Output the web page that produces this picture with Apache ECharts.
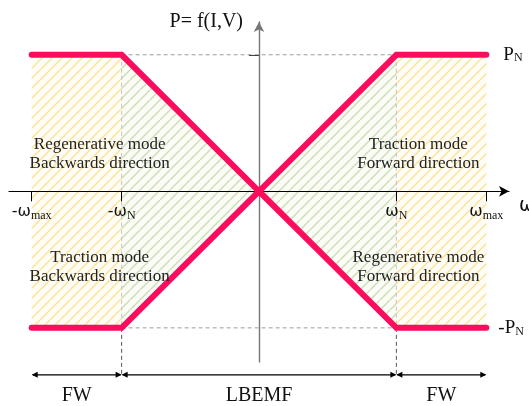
<!DOCTYPE html>
<html>
<head>
<meta charset="utf-8">
<script src="https://cdn.jsdelivr.net/npm/echarts@6/dist/echarts.min.js"></script>
<style>
  html, body { margin: 0; padding: 0; background: #fff; }
  #chart { width: 529px; height: 406px; }
</style>
</head>
<body>
<div id="chart"></div>
<script>
// Speed breakpoints (per unit of rated speed ωN) and the power envelope (per unit of PN)
const omegaPoints   = [-1.655, -1, 0, 1, 1.655];
const upperPower    = [1, 1, 0, 1, 1];
const lowerPower    = [-1, -1, 0, -1, -1];

// Axis ticks
const speedTicks      = [-1.655, -1, 1, 1.655];
const speedTickLabels = ['{w|-ω}{s|max}', '{w|-ω}{s|N}', '{w|ω}{s|N}', '{w|ω}{s|max}'];
const powerTicks      = [1];

// Operating quadrant captions
const quadrantCaptions = [
  'Regenerative mode\nBackwards direction',
  'Traction mode\nForward direction',
  'Traction mode\nBackwards direction',
  'Regenerative mode\nForward direction'
];

// Speed ranges shown under the chart
const rangeEdges  = [-1.655, -1, 1, 1.655];
const rangeLabels = ['FW', 'LBEMF', 'FW'];

// ---- layout (data-space anchors for annotations) ----
const captionAnchors = [[-1.16, 0.27], [1.16, 0.27], [-1.16, -0.555], [1.16, -0.555]];
const rangeArrowY = -1.344;
const rangeLabelY = -1.495;

const SERIF = 'Liberation Serif';
const PINK = '#fb0c5d';

function hatch(color, bg, period) {
  const c = document.createElement('canvas');
  c.width = c.height = period;
  const ctx = c.getContext('2d');
  if (bg) { ctx.fillStyle = bg; ctx.fillRect(0, 0, period, period); }
  ctx.strokeStyle = color;
  ctx.lineWidth = 1.5;
  ctx.beginPath();
  for (let k = -1; k <= 1; k++) {
    ctx.moveTo(k * period, period);
    ctx.lineTo(k * period + period, 0);
  }
  ctx.stroke();
  return { image: c, repeat: 'repeat' };
}

const yellowHatch = hatch('rgba(245,212,100,0.62)', 'rgba(255,252,238,0.6)', 10);
const greenHatch  = hatch('rgba(190,208,160,0.7)', 'rgba(248,250,240,0.6)', 10);

function pts(ys, from, to) {
  const out = [];
  for (let i = from; i <= to; i++) out.push([omegaPoints[i], ys[i]]);
  return out;
}

function fill(data, pattern) {
  return {
    type: 'line', data, silent: true, showSymbol: false, z: 1,
    lineStyle: { width: 0 },
    areaStyle: { color: pattern, opacity: 1 }
  };
}

function guide(data, color) {
  return {
    type: 'line', data, silent: true, showSymbol: false, z: 2,
    lineStyle: { color, width: 1, type: [4, 3] }
  };
}

const series = [
  // field-weakening bands
  fill(pts(upperPower, 0, 1), yellowHatch),
  fill(pts(lowerPower, 0, 1), yellowHatch),
  fill(pts(upperPower, 3, 4), yellowHatch),
  fill(pts(lowerPower, 3, 4), yellowHatch),
  // constant-torque region
  fill(pts(upperPower, 1, 3), greenHatch),
  fill(pts(lowerPower, 1, 3), greenHatch),
  // rated-power / rated-speed guides
  guide([[omegaPoints[1], upperPower[1]], [omegaPoints[3], upperPower[3]]], '#9c9c9c'),
  guide([[omegaPoints[1], lowerPower[1]], [omegaPoints[3], lowerPower[3]]], '#9c9c9c'),
  guide([[omegaPoints[1], upperPower[1]], [omegaPoints[1], lowerPower[1]]], '#c2c2c2'),
  guide([[omegaPoints[3], upperPower[3]], [omegaPoints[3], lowerPower[3]]], '#c2c2c2'),
  // power envelope
  {
    type: 'line', data: pts(upperPower, 0, 4), showSymbol: false, z: 5,
    lineStyle: { color: PINK, width: 6, cap: 'round', join: 'miter' },
    endLabel: {
      show: true, distance: 17, formatter: '{p|P}{n|N}',
      rich: {
        p: { fontFamily: SERIF, fontSize: 19, color: '#111', verticalAlign: 'bottom' },
        n: { fontFamily: SERIF, fontSize: 12, color: '#111', verticalAlign: 'bottom' }
      }
    }
  },
  {
    type: 'line', data: pts(lowerPower, 0, 4), showSymbol: false, z: 5,
    lineStyle: { color: PINK, width: 6, cap: 'round', join: 'miter' },
    endLabel: {
      show: true, distance: 12, formatter: '{p|-P}{n|N}',
      rich: {
        p: { fontFamily: SERIF, fontSize: 19, color: '#111', verticalAlign: 'bottom' },
        n: { fontFamily: SERIF, fontSize: 12, color: '#111', verticalAlign: 'bottom' }
      }
    }
  }
];

const chart = echarts.init(document.getElementById('chart'), null, { renderer: 'canvas' });

const xAxisOption = {
  type: 'value', min: -1.82, max: 1.82, position: 'bottom', offset: 0, z: 3,
  name: 'ω', nameLocation: 'end', nameGap: 10,
  nameTextStyle: { fontFamily: 'DejaVu Sans', fontSize: 19, color: '#111', align: 'left', verticalAlign: 'top', padding: [5, 0, 0, 0] },
  axisLine: { onZero: false, symbol: ['none', 'arrow'], symbolSize: [8, 10], lineStyle: { color: '#000', width: 1.2 } },
  axisTick: { show: true, customValues: speedTicks, length: 10, lineStyle: { color: '#000', width: 1 } },
  axisLabel: {
    show: true, customValues: speedTicks, margin: 13,
    formatter: v => {
      let best = 0;
      speedTicks.forEach((t, i) => { if (Math.abs(t - v) < Math.abs(speedTicks[best] - v)) best = i; });
      return speedTickLabels[best];
    },
    rich: {
      w: { fontFamily: 'DejaVu Sans', fontSize: 16, color: '#111', verticalAlign: 'bottom' },
      s: { fontFamily: SERIF, fontSize: 12, color: '#111', verticalAlign: 'bottom', padding: [0, 0, -2, 0] }
    }
  },
  splitLine: { show: false }
};

chart.setOption({
  animation: false,
  backgroundColor: '#fff',
  grid: { left: 9, right: 20, top: 22, bottom: 44, containLabel: false, outerBoundsMode: 'none' },
  xAxis: xAxisOption,
  yAxis: {
    type: 'value', min: -1.25, max: 1.24, z: 3,
    name: 'P= f(I,V)', nameLocation: 'end', nameGap: 0,
    nameTextStyle: { fontFamily: SERIF, fontSize: 20, color: '#111', align: 'right', verticalAlign: 'middle', padding: [0, 16, 0, 0] },
    axisLine: { onZero: true, symbol: ['none', 'arrow'], symbolSize: [8, 10], lineStyle: { color: '#777', width: 1.4 } },
    axisTick: { show: true, customValues: powerTicks, length: 10, lineStyle: { color: '#444', width: 1 } },
    axisLabel: { show: false },
    splitLine: { show: false }
  },
  series
});

const px = (x, y) => chart.convertToPixel({ gridIndex: 0 }, [x, y]);

// Lift the speed axis (with its ticks and labels) onto the P = 0 line
const zeroY = px(0, 0)[1];
const floorY = px(0, -1.25)[1];
chart.setOption({ xAxis: { offset: -(floorY - zeroY) } });

// Annotations placed from data coordinates through the grid's scales
const graphics = [];

// quadrant captions
quadrantCaptions.forEach((txt, i) => {
  const p = px(captionAnchors[i][0], captionAnchors[i][1]);
  graphics.push({
    type: 'text', x: p[0], y: p[1], z: 10, silent: true,
    style: { text: txt, fontFamily: SERIF, fontSize: 17, lineHeight: 19, fill: '#222', align: 'center', verticalAlign: 'middle' }
  });
});

// rated-speed guides continued down to the range arrows
[omegaPoints[1], omegaPoints[3]].forEach(w => {
  const a = px(w, lowerPower[1]);
  const b = px(w, rangeArrowY);
  graphics.push({
    type: 'line', z: 3, silent: true,
    shape: { x1: a[0], y1: a[1], x2: b[0], y2: b[1] },
    style: { stroke: '#555', lineWidth: 1, lineDash: [4, 3] }
  });
});

// range arrows and labels
function head(x, y, dir) {
  const L = 6, H = 3;
  return {
    type: 'polygon', z: 4, silent: true,
    shape: { points: [[x, y], [x - dir * L, y - H], [x - dir * L, y + H]] },
    style: { fill: '#000' }
  };
}
for (let i = 0; i < rangeLabels.length; i++) {
  const a = px(rangeEdges[i], rangeArrowY);
  const b = px(rangeEdges[i + 1], rangeArrowY);
  graphics.push({
    type: 'line', z: 4, silent: true,
    shape: { x1: a[0] + 1, y1: a[1], x2: b[0] - 1, y2: b[1] },
    style: { stroke: '#000', lineWidth: 1.2 }
  });
  graphics.push(head(a[0], a[1], -1));
  graphics.push(head(b[0], b[1], 1));
  const c = px((rangeEdges[i] + rangeEdges[i + 1]) / 2, rangeLabelY);
  graphics.push({
    type: 'text', x: c[0], y: c[1], z: 10, silent: true,
    style: { text: rangeLabels[i], fontFamily: SERIF, fontSize: 20, fill: '#111', align: 'center', verticalAlign: 'middle' }
  });
}

chart.setOption({ graphic: graphics });
</script>
</body>
</html>
